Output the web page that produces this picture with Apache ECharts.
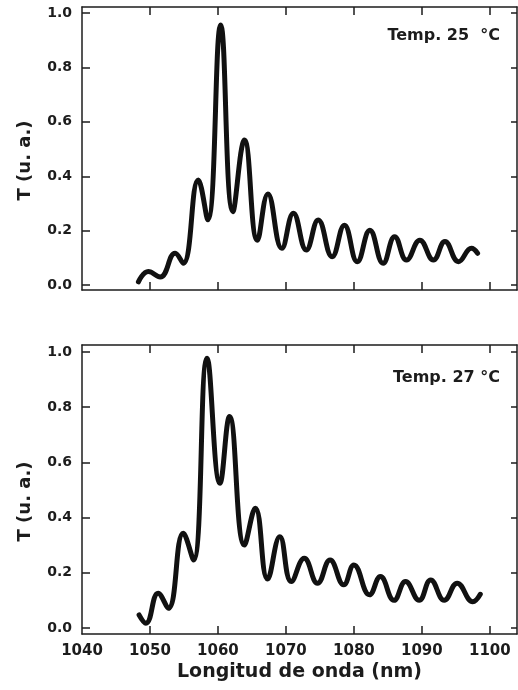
<!DOCTYPE html>
<html>
<head>
<meta charset="utf-8">
<script src="https://cdn.jsdelivr.net/npm/echarts@6/dist/echarts.min.js"></script>
<style>
html,body{margin:0;padding:0;background:#fff;}
#chart{width:518px;height:690px;}
</style>
</head>
<body>
<div id="chart"></div>
<script>
// Wavelength (nm) and transmission (a.u.) at 25 °C
const wl25 = [1048.3, 1049.75, 1051.5, 1053.7, 1054.9, 1057.1, 1058.5, 1060.4, 1062.2, 1063.9, 1065.8, 1067.35, 1069.4, 1071.1, 1073.0, 1074.75, 1076.8, 1078.6, 1080.5, 1082.35, 1084.3, 1086.0, 1087.75, 1089.7, 1091.7, 1093.4, 1095.4, 1097.3, 1098.2];
const t25  = [0.012, 0.05, 0.03, 0.117, 0.08, 0.386, 0.24, 0.956, 0.27, 0.533, 0.165, 0.335, 0.135, 0.264, 0.129, 0.239, 0.104, 0.22, 0.086, 0.202, 0.08, 0.178, 0.092, 0.165, 0.092, 0.16, 0.086, 0.135, 0.117];
// Wavelength (nm) and transmission (a.u.) at 27 °C
const wl27 = [1048.4, 1049.4, 1051.2, 1052.7, 1054.9, 1056.4, 1058.4, 1060.3, 1061.7, 1063.9, 1065.5, 1067.3, 1069.1, 1070.8, 1072.7, 1074.65, 1076.5, 1078.5, 1080.0, 1082.3, 1083.9, 1085.9, 1087.6, 1089.6, 1091.3, 1093.3, 1095.2, 1097.5, 1098.6];
const t27  = [0.047, 0.017, 0.126, 0.071, 0.343, 0.246, 0.977, 0.524, 0.766, 0.30, 0.434, 0.177, 0.33, 0.168, 0.252, 0.162, 0.246, 0.156, 0.228, 0.12, 0.186, 0.10, 0.168, 0.10, 0.174, 0.10, 0.162, 0.095, 0.122];
// Tick values / labels
const xTicks = [1040, 1050, 1060, 1070, 1080, 1090, 1100];
const yTicks = [0, 0.2, 0.4, 0.6, 0.8, 1.0];
const yName = 'T (u. a.)';
const xName = 'Longitud de onda (nm)';
const label25 = 'Temp. 25  °C';
const label27 = 'Temp. 27 °C';

const ink = '#1c1c1c';
const FONT = 'DejaVu Sans';

function pairs(xs, ys){ return xs.map((x,i)=>[x, ys[i]]); }

const grids = [
  {left: 82, right: 1, top: 7, height: 283},
  {left: 82, right: 1, top: 345, height: 289}
];
const yRanges = [[-0.018, 1.022], [-0.022, 1.025]];

const xAxes = [], yAxes = [];
[0,1].forEach(g => {
  const isBottom = g === 1;
  xAxes.push({
    type: 'value', gridIndex: g, position: 'bottom', min: 1040, max: 1104, interval: 10,
    axisLine: {show: true, onZero: false, lineStyle: {color: ink, width: 1.5}},
    axisTick: {show: true, inside: true, length: 8, customValues: xTicks.slice(1), lineStyle: {color: ink, width: 1.5}},
    axisLabel: {show: isBottom, customValues: xTicks, margin: 10, fontFamily: FONT, fontWeight: 'bold', fontSize: 15, color: ink,
      formatter: v => String(v)},
    splitLine: {show: false},
    name: isBottom ? xName : '', nameLocation: 'middle', nameGap: 29,
    nameTextStyle: {fontFamily: FONT, fontWeight: 'bold', fontSize: 19, color: ink}
  });
  xAxes.push({
    type: 'value', gridIndex: g, position: 'top', min: 1040, max: 1104, interval: 10,
    axisLine: {show: true, onZero: false, lineStyle: {color: ink, width: 1.5}},
    axisTick: {show: true, inside: true, length: 8, customValues: xTicks.slice(1), lineStyle: {color: ink, width: 1.5}},
    axisLabel: {show: false}, splitLine: {show: false}
  });
  yAxes.push({
    type: 'value', gridIndex: g, position: 'left', min: yRanges[g][0], max: yRanges[g][1],
    axisLine: {show: true, onZero: false, lineStyle: {color: ink, width: 1.5}},
    axisTick: {show: true, inside: true, length: 8, customValues: yTicks, lineStyle: {color: ink, width: 1.5}},
    axisLabel: {show: true, customValues: yTicks, margin: 10, fontFamily: FONT, fontWeight: 'bold', fontSize: 14, color: ink,
      formatter: v => v.toFixed(1)},
    splitLine: {show: false},
    name: yName, nameLocation: 'middle', nameGap: 48, nameRotate: 90,
    nameTextStyle: {fontFamily: FONT, fontWeight: 'bold', fontSize: 18, color: ink, padding: [0, 24, 0, 0]}
  });
  yAxes.push({
    type: 'value', gridIndex: g, position: 'right', min: yRanges[g][0], max: yRanges[g][1],
    axisLine: {show: true, onZero: false, lineStyle: {color: ink, width: 1.5}},
    axisTick: {show: true, inside: true, length: 6, customValues: yTicks, lineStyle: {color: ink, width: 1.5}},
    axisLabel: {show: false}, splitLine: {show: false}
  });
});

const lineStyle = {color: '#111', width: 5, cap: 'round', join: 'round'};

const option = {
  backgroundColor: '#fff',
  animation: false,
  grid: grids,
  xAxis: xAxes,
  yAxis: yAxes,
  series: [
    {type: 'line', xAxisIndex: 0, yAxisIndex: 0, data: pairs(wl25, t25), smooth: 0.45, symbol: 'none', lineStyle: lineStyle},
    {type: 'line', xAxisIndex: 2, yAxisIndex: 2, data: pairs(wl27, t27), smooth: 0.45, symbol: 'none', lineStyle: lineStyle}
  ],
  graphic: [
    {type: 'text', right: 18, top: 28, style: {text: label25, fontFamily: FONT, fontWeight: 'bold', fontSize: 16, fill: ink}},
    {type: 'text', right: 18, top: 370, style: {text: label27, fontFamily: FONT, fontWeight: 'bold', fontSize: 16, fill: ink}}
  ]
};

const chart = echarts.init(document.getElementById('chart'), null, {renderer: 'canvas'});
chart.setOption(option);
</script>
</body>
</html>
